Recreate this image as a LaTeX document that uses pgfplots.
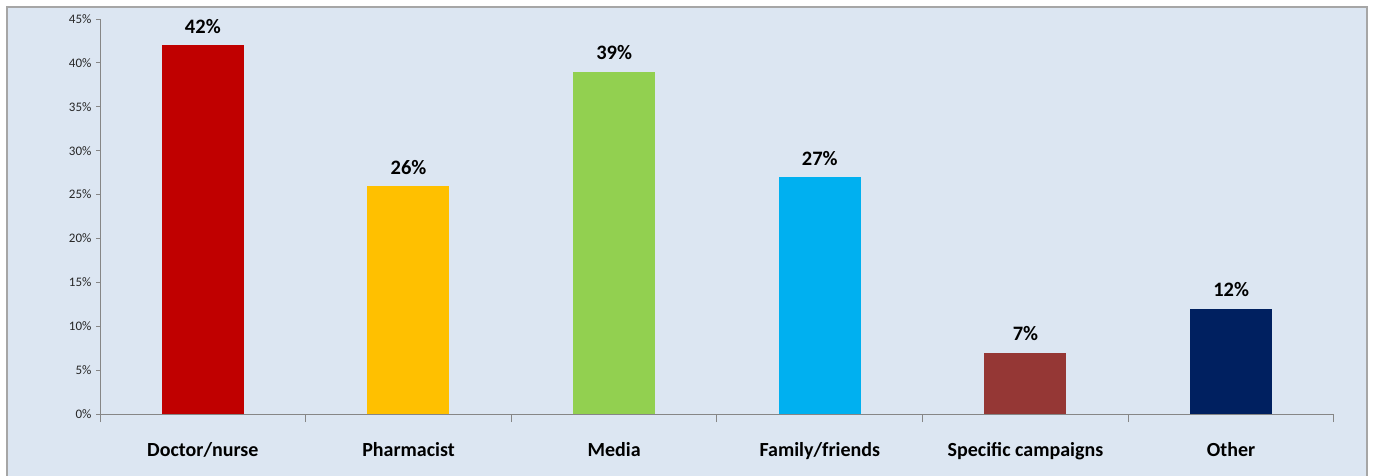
\documentclass[border=0pt]{standalone}
\usepackage{pgfplots}
\pgfplotsset{compat=1.18}
\usepackage{fontspec}
\setmainfont{Carlito}
\definecolor{bg}{HTML}{DCE6F2}
\definecolor{frame}{HTML}{A6A6A6}
\definecolor{axgray}{HTML}{868686}
\definecolor{c1}{HTML}{C00000}
\definecolor{c2}{HTML}{FFC000}
\definecolor{c3}{HTML}{92D050}
\definecolor{c4}{HTML}{00B0F0}
\definecolor{c5}{HTML}{953735}
\definecolor{c6}{HTML}{002060}
\begin{document}
\begin{tikzpicture}
\useasboundingbox (0,0) rectangle (1373pt,475pt);
\fill[white] (0,0) rectangle (1373pt,475pt);
\draw[fill=bg, draw=frame, line width=2pt] (7pt,-10pt) rectangle (1367pt,468pt);
\begin{axis}[
  at={(100pt,61pt)}, anchor=south west,
  scale only axis, width=1234pt, height=395pt,
  xmin=0.5, xmax=6.5, ymin=0, ymax=45,
  axis lines*=left,
  axis line style={axgray, line width=1pt},
  tick style={axgray, line width=1pt},
  tick align=outside,
  major tick length=8pt,
  /pgf/number format/assume math mode=true,
  ytick=\empty,
  extra y ticks={0,5,...,45},
  extra y tick style={major tick length=4pt},
  extra y tick labels={0\%,5\%,10\%,15\%,20\%,25\%,30\%,35\%,40\%,45\%},
  yticklabel style={font=\fontsize{13}{15}\selectfont, text=black!85, xshift=-1pt},
  xtick={0.5,1.5,2.5,3.5,4.5,5.5,6.5},
  xticklabels={},
  extra x ticks={1,2,3,4,5,6},
  extra x tick labels={Doctor/nurse, Pharmacist, Media, Family/friends, Specific campaigns, Other},
  extra x tick style={major tick length=0pt},
  xticklabel style={font=\fontsize{20}{24}\selectfont\bfseries, yshift=-25pt},
  ybar, bar width=82pt, bar shift=0pt,
  nodes near coords={\pgfmathprintnumber{\pgfplotspointmeta}\%},
  nodes near coords style={font=\fontsize{20.5}{24}\selectfont\bfseries, text=black, yshift=8pt},
  every axis plot/.append style={draw=none},
]
\addplot[fill=c1] coordinates {(1,42)};
\addplot[fill=c2] coordinates {(2,26)};
\addplot[fill=c3] coordinates {(3,39)};
\addplot[fill=c4] coordinates {(4,27)};
\addplot[fill=c5] coordinates {(5,7)};
\addplot[fill=c6] coordinates {(6,12)};
\end{axis}
\end{tikzpicture}
\end{document}
